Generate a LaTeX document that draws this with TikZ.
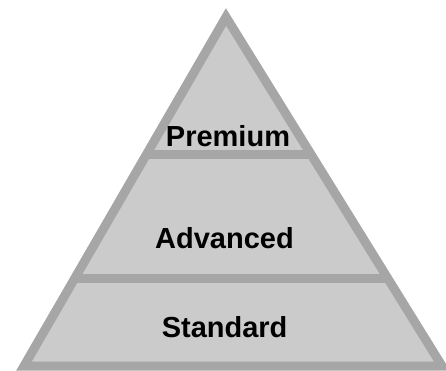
\documentclass[tikz,border=0pt]{standalone}
\usepackage{fontspec}
\setmainfont{Liberation Sans}
\usetikzlibrary{calc}
\definecolor{bandfill}{HTML}{CBCBCB}
\definecolor{bandline}{HTML}{A6A6A6}
\tikzset{
  pyr/.style={draw=bandline, fill=bandfill, line width=9pt, line join=miter},
  divider/.style={draw=bandline, line width=9pt},
  tierlabel/.style={anchor=base, inner sep=0pt, font=\bfseries\fontsize{29}{29}\selectfont, text=black}
}
\begin{document}
\begin{tikzpicture}[x=1pt, y={(0pt,-1pt)}]
  \useasboundingbox (0,0) rectangle (446,371);
  \coordinate (apex) at (226,17);
  \coordinate (bl) at (24,366);
  \coordinate (br) at (442,366);
  \path[pyr] (apex) -- (br) -- (bl) -- cycle;
  \coordinate (l1) at ($(apex)!0.3926!(bl)$);
  \coordinate (r1) at ($(apex)!0.3926!(br)$);
  \coordinate (l2) at ($(apex)!0.748!(bl)$);
  \coordinate (r2) at ($(apex)!0.748!(br)$);
  \draw[divider] (l1) -- (r1);
  \draw[divider] (l2) -- (r2);
  \node[tierlabel] (premium) at (228,147) {Premium};
  \node[tierlabel] (advanced) at (224.5,248) {Advanced};
  \node[tierlabel] (standard) at (224.6,337) {Standard};
\end{tikzpicture}
\end{document}
